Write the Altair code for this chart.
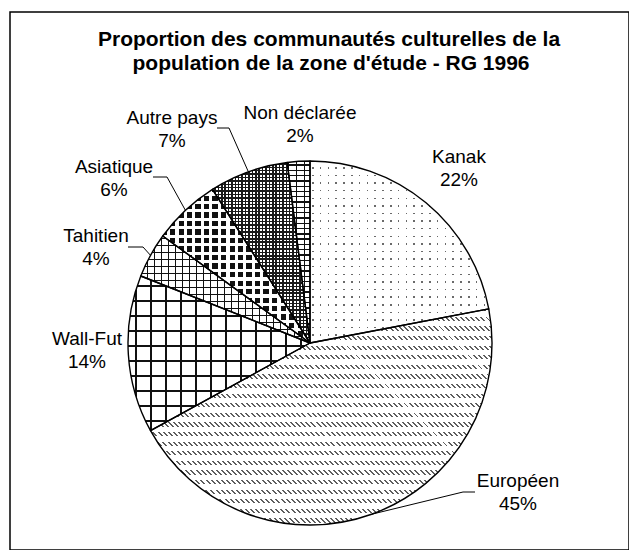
import math
import altair as alt
import pandas as pd

# ---------------- data ----------------
categories = ["Kanak", "Européen", "Wall-Fut", "Tahitien", "Asiatique", "Autre pays", "Non déclarée"]
values = [22, 45, 14, 4, 6, 7, 2]
pct_labels = ["22%", "45%", "14%", "4%", "6%", "7%", "2%"]
title_lines = ["Proportion des communautés culturelles de la",
               "population de la zone d'étude - RG 1996"]

# ---------------- layout (view coordinates = page - offset) ----------------
OX, OY = 10, 12
CX, CY, R = 310 - OX, 343 - OY, 182
FONT = "Liberation Sans"
LINE_GAP = 23
# label anchor: (centre x, baseline of first line) in page px
LABEL_POS = {
    "Kanak": (459, 163),
    "Européen": (518, 487),
    "Wall-Fut": (87, 345),
    "Tahitien": (96, 242),
    "Asiatique": (114, 173),
    "Autre pays": (172, 124),
    "Non déclarée": (300, 119),
}
# leader lines: label-side points (page px); last point is the slice edge
LEADERS = {
    "Autre pays": [(217, 128), (229, 128)],
    "Asiatique": [(153, 177), (167, 177)],
    "Tahitien": [(128, 247), (143, 247)],
    "Européen": [(475, 492), (463, 492)],
}

TOTAL = sum(values)
CLEAR = "rgba(255,255,255,0)"

df = pd.DataFrame({"cat": categories, "value": values,
                   "order": list(range(len(categories))), "pct": pct_labels})

# slice angles (derived from the values)
angles = {}
acc = 0
for c, v in zip(categories, values):
    angles[c] = (2 * math.pi * acc / TOTAL, 2 * math.pi * (acc + v) / TOTAL)
    acc += v


def slice_bbox(a0, a1):
    pts = [(CX, CY)]
    for a in [a0, a1] + [k * math.pi / 2 for k in range(5) if a0 < k * math.pi / 2 < a1]:
        pts.append((CX + R * math.sin(a), CY - R * math.cos(a)))
    xs = [p[0] for p in pts]
    ys = [p[1] for p in pts]
    return min(xs), min(ys), max(xs), max(ys)


def stripe_grad(bbox, angle_deg, period, band, band_color, other_color, offset=0.0):
    x0, y0, x1, y1 = bbox
    W, H = x1 - x0, y1 - y0
    th = math.radians(angle_deg)
    nx, ny = math.cos(th), math.sin(th)
    corners = [(0, 0), (W, 0), (0, H), (W, H)]
    proj = [cx * nx + cy * ny for cx, cy in corners]
    pmin = min(proj)
    E = max(proj) - pmin
    i = proj.index(pmin)
    a = W * nx / E
    b = H * ny / E
    s = a * a + b * b
    u1, v1 = corners[i][0] / W, corners[i][1] / H
    u2, v2 = u1 + a / s, v1 + b / s
    g0 = (x0 + OX) * nx + (y0 + OY) * ny + pmin
    stops = [(0.0, other_color)]
    k = math.floor((g0 - offset) / period) - 1
    while True:
        gs = k * period + offset
        ge = gs + band
        if gs - g0 > E:
            break
        ls, le = (gs - g0) / E, (ge - g0) / E
        if le > 0 and ls < 1:
            ls_c, le_c = round(max(ls, 0.0), 5), round(min(le, 1.0), 5)
            stops += [(ls_c, other_color), (ls_c, band_color), (le_c, band_color), (le_c, other_color)]
        k += 1
    stops.append((1.0, other_color))
    return alt.LinearGradient(
        gradient="linear",
        x1=round(u1, 5), y1=round(v1, 5), x2=round(u2, 5), y2=round(v2, 5),
        stops=[alt.GradientStop(offset=o, color=c) for o, c in stops],
    )


# pattern definitions: solid base + stripe layers (angle, period, band, band colour, other colour)
PATTERNS = {
    "Kanak": ("#6a6a6a", [(0, 7.8, 1.5, CLEAR, "white"), (90, 7.6, 1.5, CLEAR, "white")]),
    "Européen": ("#5e5e5e", [(90, 9.6, 4.2, CLEAR, "white"), (-45, 3.6, 1.4, CLEAR, "white")]),
    "Wall-Fut": ("white", [(0, 15, 2.0, "#111111", CLEAR), (90, 15, 2.0, "#111111", CLEAR)]),
    "Tahitien": ("white", [(0, 7, 1.4, "#111111", CLEAR), (90, 7, 1.4, "#111111", CLEAR)]),
    "Asiatique": ("#111111", [(0, 8.5, 5.2, CLEAR, "white"), (90, 8.5, 5.2, CLEAR, "white")]),
    "Autre pays": ("white", [(0, 3.4, 1.5, "#1a1a1a", CLEAR), (90, 3.4, 1.5, "#1a1a1a", CLEAR)]),
    "Non déclarée": ("white", [(90, 5.3, 1.3, "#111111", CLEAR), (0, 8, 1.3, "#111111", CLEAR)]),
}

base = alt.Chart(df).transform_window(
    cum="sum(value)", sort=[alt.SortField("order")]
).transform_calculate(start="datum.cum - datum.value")

theta = alt.Theta("start:Q", scale=alt.Scale(domain=[0, TOTAL]), stack=False)
theta2 = alt.Theta2("cum:Q")

layers = []
for c in categories:
    bb = slice_bbox(*angles[c])
    solid, stripes = PATTERNS[c]
    sub = base.transform_filter(alt.datum.cat == c)
    layers.append(sub.mark_arc(radius=R, x=CX, y=CY, fill=solid).encode(theta=theta, theta2=theta2))
    for ang, per, band, bc, oc in stripes:
        g = stripe_grad(bb, ang, per, band, bc, oc)
        layers.append(sub.mark_arc(radius=R, x=CX, y=CY, fill=g).encode(theta=theta, theta2=theta2))

outline = base.mark_arc(radius=R, x=CX, y=CY, fill=CLEAR, stroke="black", strokeWidth=1.4,
                        strokeJoin="round").encode(theta=theta, theta2=theta2)
layers.append(outline)

# leader lines
rows = []
acc = 0
for c, v in zip(categories, values):
    mid = 2 * math.pi * (acc + v / 2) / TOTAL
    acc += v
    if c in LEADERS:
        pts = [(x - OX, y - OY) for x, y in LEADERS[c]]
        pts.append((CX + R * math.sin(mid), CY - R * math.cos(mid)))
        for j, (x, y) in enumerate(pts):
            rows.append({"cat": c, "o": j, "x": x, "y": y})
lead_df = pd.DataFrame(rows)
leaders = alt.Chart(lead_df).mark_line(color="black", strokeWidth=1).encode(
    x=alt.X("x:Q", scale=None, axis=None),
    y=alt.Y("y:Q", scale=None, axis=None),
    detail="cat:N", order="o:Q")
layers.append(leaders)

# labels
lab_rows = []
for c, p in zip(categories, pct_labels):
    lx, ly = LABEL_POS[c]
    lab_rows.append({"t": c, "x": lx - OX, "y": ly - OY})
    lab_rows.append({"t": p, "x": lx - OX, "y": ly - OY + LINE_GAP})
lab_df = pd.DataFrame(lab_rows)
labels = alt.Chart(lab_df).mark_text(font=FONT, fontSize=19, color="black", align="center",
                                     baseline="alphabetic").encode(
    x=alt.X("x:Q", scale=None, axis=None), y=alt.Y("y:Q", scale=None, axis=None), text="t:N")
layers.append(labels)

title_df = pd.DataFrame({"t": title_lines, "x": [329 - OX, 331 - OX], "y": [46 - OY, 70 - OY]})
title = alt.Chart(title_df).mark_text(font=FONT, fontSize=21, fontWeight="bold", color="black",
                                      align="center", baseline="alphabetic").encode(
    x=alt.X("x:Q", scale=None, axis=None), y=alt.Y("y:Q", scale=None, axis=None), text="t:N")
layers.append(title)

chart = alt.layer(*layers).properties(
    width=619, height=538, autosize="none",
    padding={"left": 2, "top": 4, "right": 0, "bottom": 0},
    background="white",
).configure_view(stroke="black", strokeWidth=1.5)

chart.save("out.html", embed_options={"renderer": "svg", "actions": False})
